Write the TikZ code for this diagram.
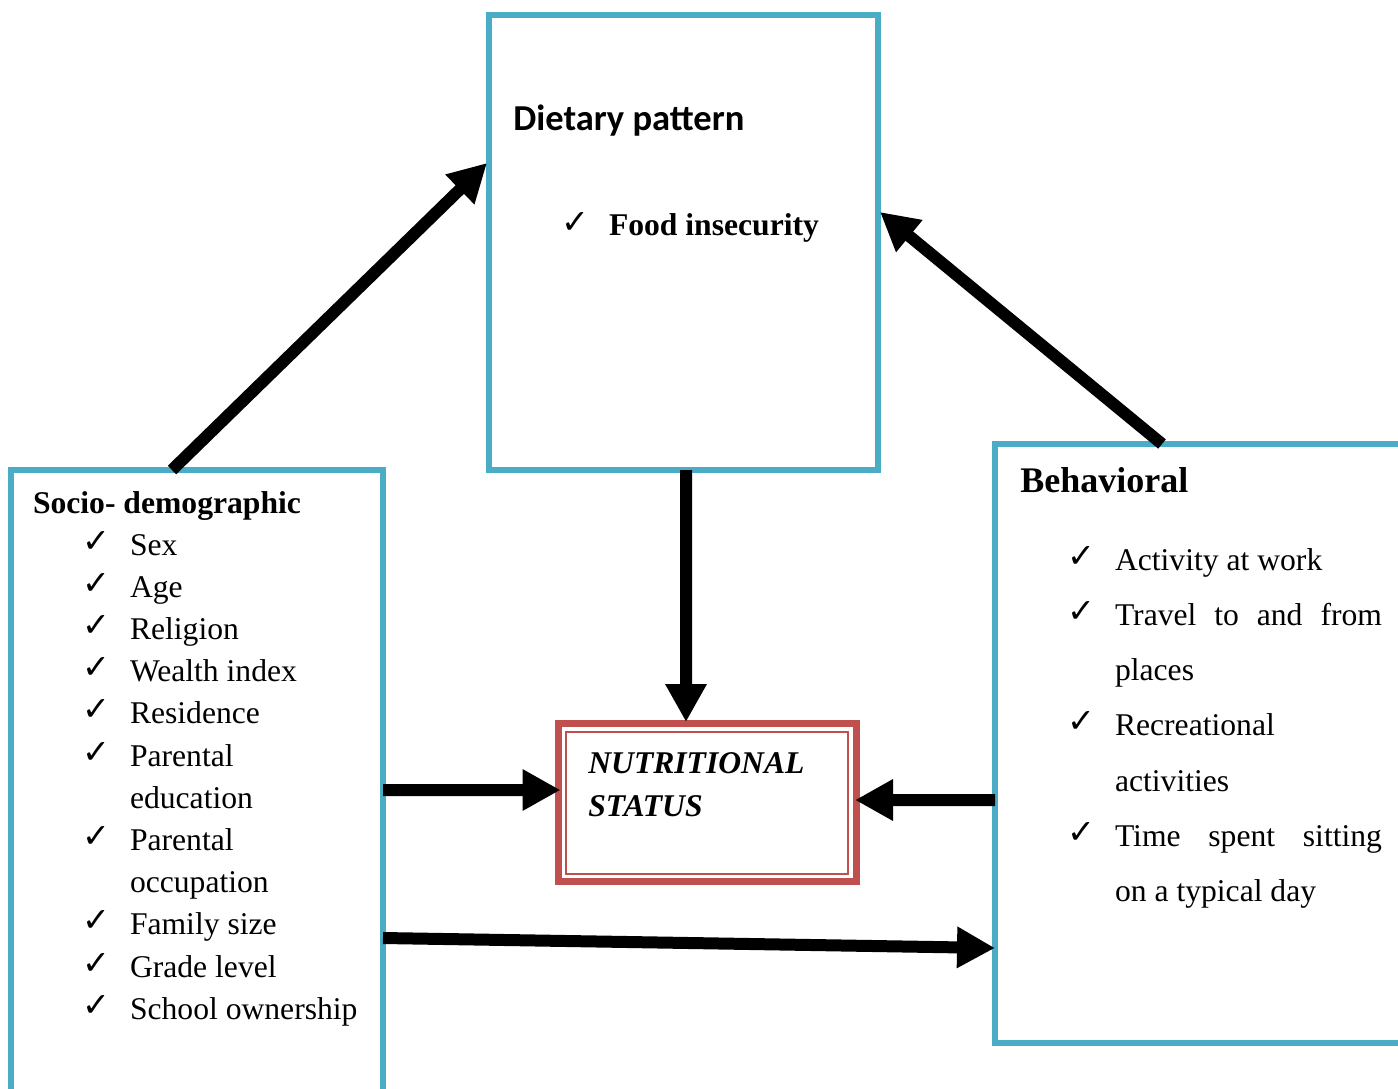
\documentclass[tikz,border=0pt]{standalone}
\usepackage{fontspec}
\setmainfont{Liberation Serif}
\newfontfamily\calib{Carlito}
\newfontfamily\dejavu{DejaVu Sans}
\usetikzlibrary{arrows.meta,calc}
\definecolor{boxblue}{HTML}{4BACC6}
\definecolor{boxred}{HTML}{C0504D}
\begin{document}
\begin{tikzpicture}[x=0.02cm,y=-0.02cm,
  bluebox/.style={draw=boxblue,line width=0.12cm,inner sep=0pt,outer sep=0pt,anchor=north west},
  redout/.style={draw=boxred,line width=0.14cm,inner sep=0pt,outer sep=0pt},
  redin/.style={draw=boxred,line width=0.04cm,inner sep=0pt,outer sep=0pt},
  arr/.style={line width=0.24cm,line cap=butt,-{Triangle[length=0.76cm,width=0.78cm]}},
  txt/.style={anchor=base west,inner sep=0pt,outer sep=0pt,font=\fontsize{18}{24}\selectfont},
  head/.style={anchor=base west,inner sep=0pt,outer sep=0pt,font=\bfseries\fontsize{18}{24}\selectfont},
  ckmark/.style={anchor=base west,inner sep=0pt,outer sep=0pt,font=\dejavu\bfseries\fontsize{19}{19}\selectfont}
]
\useasboundingbox (0,0) rectangle (1398,1088);
\fill[white] (0,0) rectangle (1398,1088);
\clip (0,0) rectangle (1398,1088);

% boxes
\node[bluebox,minimum width=372*0.02cm,minimum height=640*0.02cm] (socio) at (11,470) {};
\node[bluebox,minimum width=389*0.02cm,minimum height=455*0.02cm] (diet) at (489,15) {};
\node[bluebox,minimum width=500*0.02cm,minimum height=599*0.02cm] (behav) at (995,444) {};
\node[redout,minimum width=298*0.02cm,minimum height=158*0.02cm] (nutr) at (707.5,802.5) {};
\node[redin,minimum width=282*0.02cm,minimum height=142*0.02cm] (nutrin) at (707,803) {};

% arrows
\draw[arr] ($(socio.north west)+(161,0)$) -- ($(diet.north west)+(-2,148)$);
\draw[arr] ($(behav.north west)+(167,0)$) -- ($(diet.north east)+(2,197)$);
\draw[arr] ($(diet.south west)+(197,0)$) -- ($(nutr.north west)+(127.5,-1.5)$);
\draw[arr] ($(socio.north east)+(0,320)$) -- ($(nutr.north west)+(2,66.5)$);
\draw[arr] ($(behav.north west)+(0,356)$) -- ($(nutr.north east)+(-1.5,76.5)$);
\draw[arr] ($(socio.north east)+(0,468)$) -- ($(behav.north west)+(0,504)$);

% dietary
\node[anchor=base west,inner sep=0pt,font=\calib\bfseries\fontsize{20.8}{24}\selectfont] (dh) at (513,131) {Dietary pattern};
\node[ckmark] (dc) at (561,233) {✓};
\node[head] (dt) at (609,235) {Food insecurity};

% nutritional
\node[anchor=base west,inner sep=0pt,font=\bfseries\itshape\fontsize{18}{24}\selectfont] (n1) at (588,773) {NUTRITIONAL};
\node[anchor=base west,inner sep=0pt,font=\bfseries\itshape\fontsize{18}{24}\selectfont] (n2) at (588,816) {STATUS};

% socio-demographic
\node[head] (sh) at (33,513) {Socio- demographic};
\foreach \i/\t in {0/Sex,1/Age,2/Religion,3/Wealth index,4/Residence,5/Parental,6/education,7/Parental,8/occupation,9/Family size,10/Grade level,11/School ownership}{
  \node[txt] (sl\i) at (130,{555+42.2*\i}) {\t};
}
\foreach \i in {0,1,2,3,4,5,7,9,10,11}{
  \node[ckmark] (sc\i) at (82,{552+42.2*\i}) {✓};
}

% behavioral
\node[anchor=base west,inner sep=0pt,font=\bfseries\fontsize{20.5}{24}\selectfont] (bh) at (1020,492) {Behavioral};
\node[txt] (bl0) at (1115,570) {Activity at work};
\node[txt] (bl1) at (1115,625.3) {\hbox to 5.34cm{Travel\hfill to\hfill and\hfill from}};
\node[txt] (bl2) at (1115,680.6) {places};
\node[txt] (bl3) at (1115,735.9) {Recreational};
\node[txt] (bl4) at (1115,791.2) {activities};
\node[txt] (bl5) at (1115,846.5) {\hbox to 5.34cm{Time\hfill spent\hfill sitting}};
\node[txt] (bl6) at (1115,901.8) {on a typical day};
\foreach \i/\y in {0/570,1/625.3,3/735.9,5/846.5}{
  \node[ckmark] (bc\i) at (1067,\y-3) {✓};
}
\end{tikzpicture}
\end{document}
